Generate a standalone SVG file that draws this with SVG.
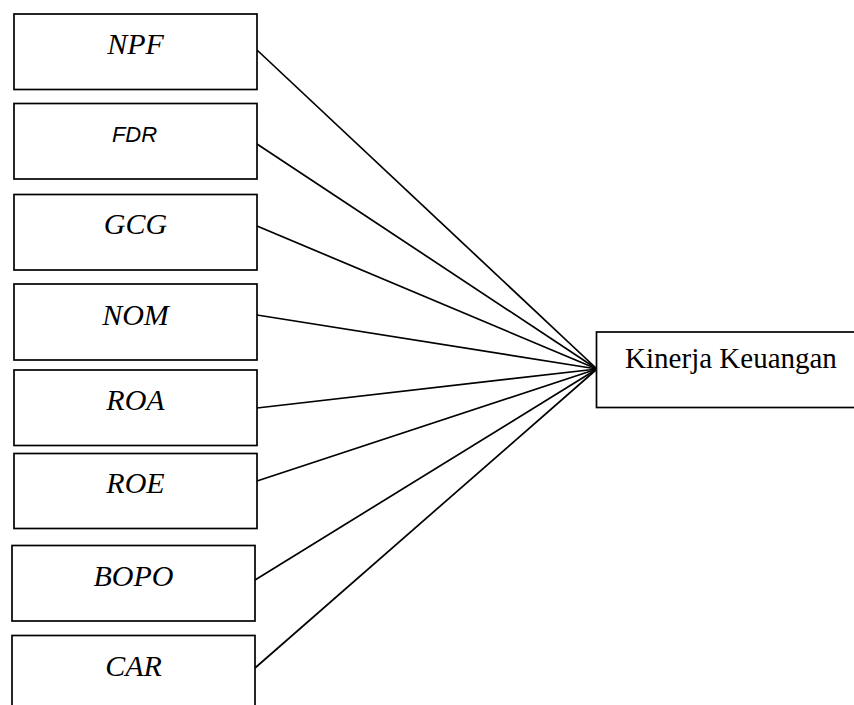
<svg xmlns="http://www.w3.org/2000/svg" width="854" height="705" viewBox="0 0 854 705">
<style>
.box{fill:#fff;stroke:#000;stroke-width:1.7}
.lbl{font-family:"Liberation Serif","Times New Roman",serif;font-style:italic;font-size:30px;text-anchor:middle;fill:#000}
.lbls{font-family:"Liberation Sans",Arial,sans-serif;font-style:italic;font-size:22px;text-anchor:middle;fill:#000}
.out{font-family:"Liberation Serif","Times New Roman",serif;font-size:29px;text-anchor:middle;fill:#000}
.con{stroke:#000;stroke-width:1.7;fill:none}
</style>
<rect width="854" height="705" fill="#fff"/>
<g id="connectors">
<line class="con" x1="257" y1="50" x2="597" y2="369"/>
<line class="con" x1="257" y1="144" x2="597" y2="369"/>
<line class="con" x1="257" y1="226" x2="597" y2="369"/>
<line class="con" x1="257" y1="315" x2="597" y2="369"/>
<line class="con" x1="257" y1="408" x2="597" y2="369"/>
<line class="con" x1="257" y1="481" x2="597" y2="369"/>
<line class="con" x1="255" y1="580" x2="597" y2="369"/>
<line class="con" x1="255" y1="668" x2="597" y2="369"/>
</g>
<g id="npf"><rect class="box" x="14" y="14" width="243" height="75.5"/><text class="lbl" x="135.5" y="54">NPF</text></g>
<g id="fdr"><rect class="box" x="14" y="103.5" width="243" height="75.5"/><text class="lbls" x="134.5" y="142">FDR</text></g>
<g id="gcg"><rect class="box" x="14" y="194.5" width="243" height="75.5"/><text class="lbl" x="135.5" y="234">GCG</text></g>
<g id="nom"><rect class="box" x="14" y="284" width="243" height="76"/><text class="lbl" x="135.5" y="325">NOM</text></g>
<g id="roa"><rect class="box" x="14" y="370" width="243" height="75.5"/><text class="lbl" x="135.5" y="410">ROA</text></g>
<g id="roe"><rect class="box" x="14" y="453.5" width="243" height="75"/><text class="lbl" x="135.5" y="493">ROE</text></g>
<g id="bopo"><rect class="box" x="12" y="545.5" width="243" height="75.5"/><text class="lbl" x="133.5" y="585.5">BOPO</text></g>
<g id="car"><rect class="box" x="12" y="635.5" width="243" height="80"/><text class="lbl" x="133.5" y="676">CAR</text></g>
<g id="kinerja"><rect class="box" x="596.5" y="332" width="270" height="75.5"/><text class="out" x="731" y="368">Kinerja Keuangan</text></g>
</svg>
